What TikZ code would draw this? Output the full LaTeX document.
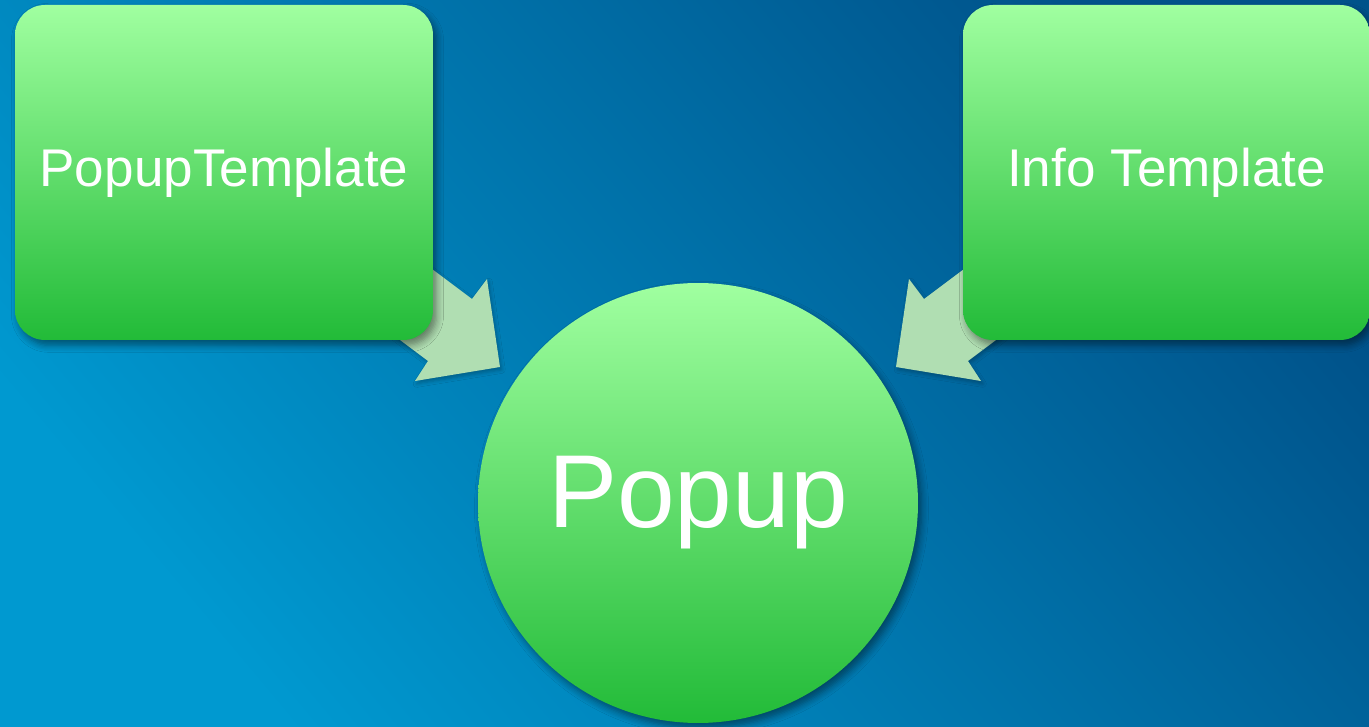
\documentclass[tikz,border=0pt]{standalone}
\usepackage{fontspec}
\setmainfont{Liberation Sans}
\usetikzlibrary{shadows.blur}
\definecolor{bgdark}{HTML}{00528A}
\definecolor{bglight}{HTML}{0099D0}
\definecolor{grtop}{HTML}{A0FFA0}
\definecolor{grbot}{HTML}{22BB38}
\definecolor{arrfill}{HTML}{B0DEB2}
\tikzset{
  softshadow/.style={blur shadow={shadow xshift=1pt,shadow yshift=-1.5pt,shadow blur steps=6,shadow blur radius=2pt,shadow opacity=45}},
  tmplbox/.style={rectangle,rounded corners=3mm,minimum width=4.18cm,minimum height=3.35cm,
    top color=grtop,bottom color=grbot,text=white,font=\fontsize{15.1}{18}\selectfont,softshadow},
  popcirc/.style={circle,inner sep=0pt,minimum size=4.4cm,
    top color=grtop,bottom color=grbot,text=white,font=\fontsize{29.5}{35}\selectfont,softshadow},
  bigarrow/.style={fill=arrfill,blur shadow={shadow xshift=.5pt,shadow yshift=-.8pt,shadow blur steps=4,shadow blur radius=1pt,shadow opacity=25}}
}
\begin{document}
\begin{tikzpicture}[x=0.1mm,y=-0.1mm]
\clip (0,0) rectangle (1369,727);
\shade[top color=bgdark,bottom color=bglight,shading angle=-50] (0,0) rectangle (1369,727);
% block arrows, the right one mirrored
\foreach \s/\c in {1/0,-1/1396}
{
    \fill[bigarrow] ({\c+\s*360},215) -- ({\c+\s*472},299) -- ({\c+\s*487},279) -- ({\c+\s*500},367)
      -- ({\c+\s*415},381) -- ({\c+\s*428},361) -- ({\c+\s*320},280) -- cycle;
}
\node[tmplbox] (ptmpl) at (224,172.5) {PopupTemplate};
\node[tmplbox,minimum width=4.07cm] (itmpl) at (1166.5,172.5) {Info Template};
\node[popcirc] (popup) at (698,503) {Popup};
\end{tikzpicture}
\end{document}
